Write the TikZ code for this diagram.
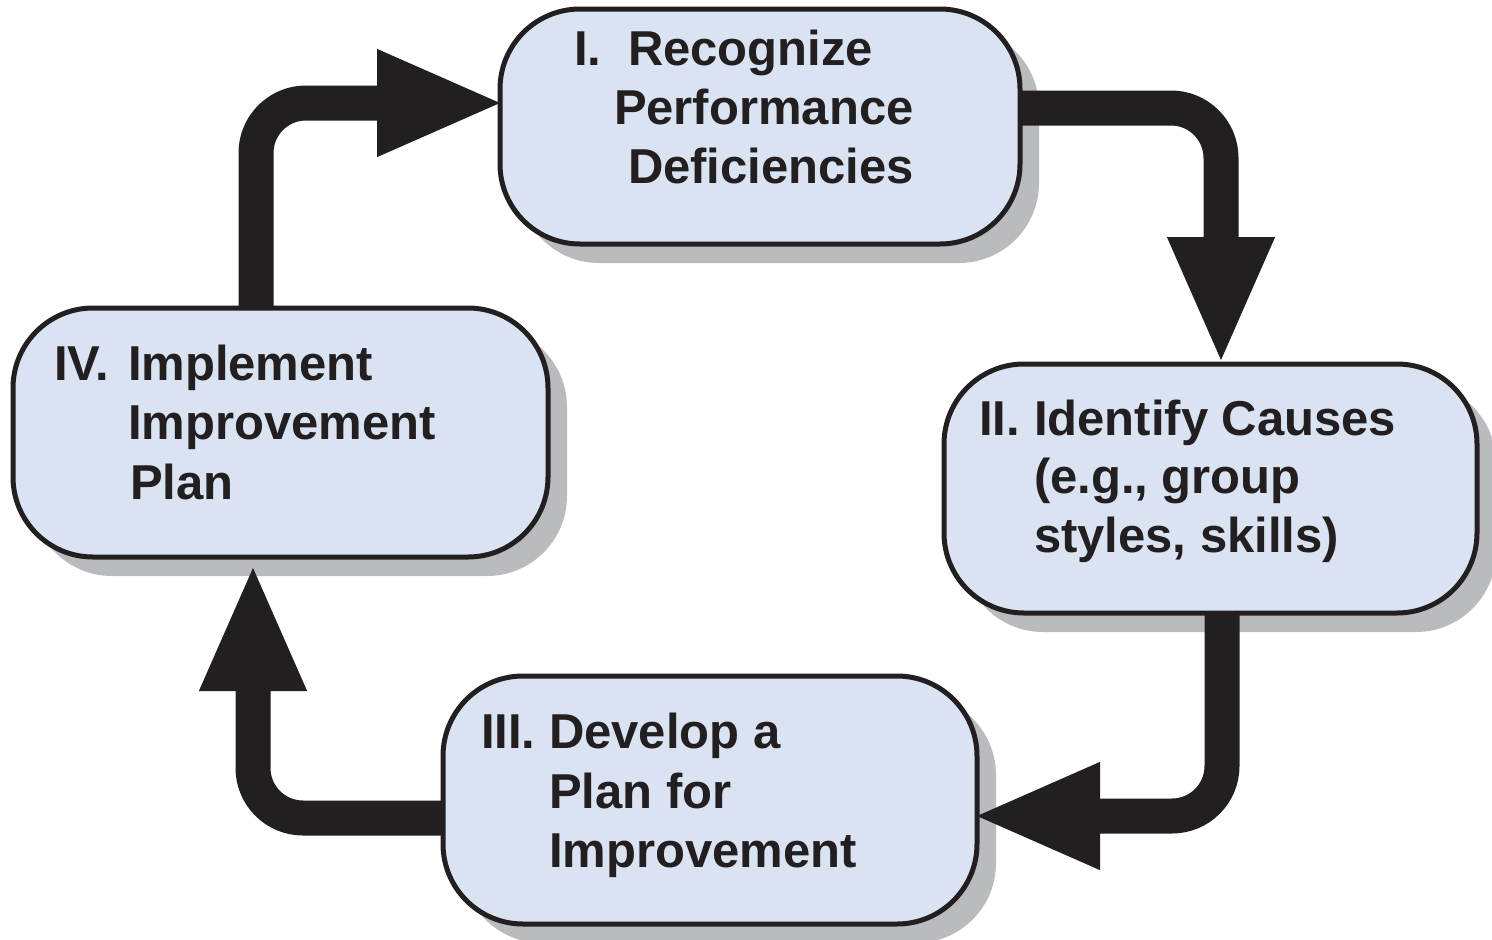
\documentclass[tikz,border=0pt]{standalone}
\usepackage{fontspec}
\setmainfont{Liberation Sans}
\usetikzlibrary{arrows.meta,shadows}
\definecolor{boxfill}{RGB}{217,227,242}
\definecolor{shadowc}{RGB}{186,187,191}
\definecolor{ink}{RGB}{35,31,32}
\begin{document}
\begin{tikzpicture}[x=1pt,y=-1pt,
  stage/.style={draw=ink, line width=5pt, fill=boxfill, rounded corners=80pt,
    inner sep=0pt, outer sep=0pt,
    general shadow={fill=shadowc, shadow xshift=19pt, shadow yshift=-19pt}},
  txt/.style={anchor=base west, inner sep=0pt, outer sep=0pt, text=ink,
    font=\bfseries\fontsize{49}{59}\selectfont},
  flow/.style={draw=ink, line width=35pt, rounded corners=50pt,
    -{Triangle[length=123pt,width=108pt,line width=1pt]}}]
\useasboundingbox (0,0) rectangle (1492,940);
% boxes
\node[stage, minimum width=520pt, minimum height=235pt] (b1) at (760,126.5) {};
\node[stage, minimum width=533pt, minimum height=249pt] (b2) at (1210.5,488.5) {};
\node[stage, minimum width=534pt, minimum height=248pt] (b3) at (710,800) {};
\node[stage, minimum width=535pt, minimum height=249pt] (b4) at (280.5,432.5) {};
% texts
\node[txt] (n1) at (574,65) {I.};
\node[txt] (t1a) at (628,65) {Recognize};
\node[txt] (t1b) at (614,124) {Performance};
\node[txt] (t1c) at (628,183) {Deficiencies};
\node[txt] (n2) at (979,435) {II.};
\node[txt] (t2a) at (1034,435) {Identify Causes};
\node[txt] (t2b) at (1034,493) {(e.g., group};
\node[txt] (t2c) at (1034,552) {styles, skills)};
\node[txt] (n3) at (481,748) {III.};
\node[txt] (t3a) at (549,748) {Develop a};
\node[txt] (t3b) at (549,808) {Plan for};
\node[txt] (t3c) at (549,867) {Improvement};
\node[txt] (n4) at (54,380) {IV.};
\node[txt] (t4a) at (128,380) {Implement};
\node[txt] (t4b) at (128,439) {Improvement};
\node[txt] (t4c) at (130,499) {Plan};
% connectors
\draw[flow] ([xshift=-24.5pt]b4.north) |- ([yshift=23.5pt]b1.west);
\draw[flow] ([yshift=18.5pt]b1.east) -| ([xshift=10.5pt,yshift=4pt]b2.north);
\draw[flow] ([xshift=11.5pt]b2.south) |- ([yshift=-16pt]b3.east);
\draw[flow] ([yshift=-18pt]b3.west) -| ([xshift=-27.5pt,yshift=-11pt]b4.south);
\end{tikzpicture}
\end{document}
